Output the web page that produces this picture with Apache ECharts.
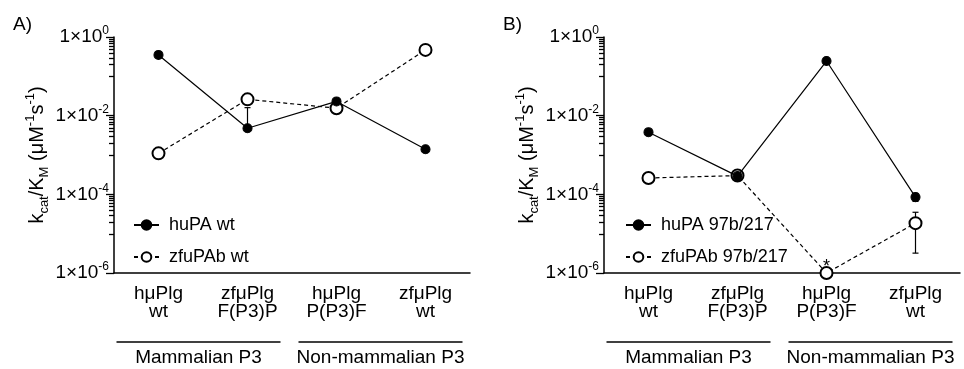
<!DOCTYPE html>
<html>
<head>
<meta charset="utf-8">
<script src="https://cdn.jsdelivr.net/npm/echarts@6/dist/echarts.min.js"></script>
<style>
  html, body { margin: 0; padding: 0; background: #fff; }
  #chart { width: 964px; height: 369px; }
</style>
</head>
<body>
<div id="chart"></div>
<script>
// categories and groups
const categories = ['hμPlg\nwt', 'zfμPlg\nF(P3)P', 'hμPlg\nP(P3)F', 'zfμPlg\nwt'];
const groupNames = ['Mammalian P3', 'Non-mammalian P3'];
const groupRanges = [[0, 1], [2, 3]];
const panelLabels = ['A)', 'B)'];

// panel A
const namesA = ['huPA wt', 'zfuPAb wt'];
const huPA_A = [0.35, 0.0048, 0.023, 0.0014];
const huPA_A_err = [[0.29, 0.42], [null, 0.016], null, null];
const zfuPAb_A = [0.0011, 0.026, 0.0155, 0.47];
const zfuPAb_A_err = [null, null, null, null];

// panel B
const namesB = ['huPA 97b/217', 'zfuPAb 97b/217'];
const huPA_B = [0.0038, 0.00029, 0.245, 0.000085];
const huPA_B_err = [null, [0.00023, 0.00034], null, [0.000066, 0.000105]];
const zfuPAb_B = [0.00026, 0.0003, 0.000001, 0.0000185];
const zfuPAb_B_err = [null, null, null, [0.0000032, 0.000035]];
const zfuPAb_B_notes = ['', '', '*', ''];

// y ticks (powers of ten)
const yMajorExp = [-6, -4, -2, 0];

const FONT = '"Liberation Sans", Arial, sans-serif';
const grids = [
  { left: 114, top: 37, width: 356, height: 236 },
  { left: 604, top: 37, width: 356, height: 236 }
];

// minor ticks: 1..9 x 10^(e-1) below each major tick
const minorVals = [];
yMajorExp.slice(1).forEach(e => {
  for (let k = 1; k <= 9; k++) minorVals.push(k * Math.pow(10, e - 1));
});

const tickRich = {
  b: { fontSize: 19, fontFamily: FONT, color: '#000', lineHeight: 24 },
  s: { fontSize: 12, fontFamily: FONT, color: '#000', lineHeight: 13, verticalAlign: 'top' }
};
const nameRich = {
  t: { fontSize: 20, fontFamily: FONT, color: '#000', lineHeight: 27 },
  sb: { fontSize: 13, fontFamily: FONT, color: '#000', lineHeight: 15, verticalAlign: 'bottom' },
  sp: { fontSize: 13, fontFamily: FONT, color: '#000', lineHeight: 15, verticalAlign: 'top' }
};

function yAxis(gi) {
  return {
    type: 'log', gridIndex: gi, logBase: 10, min: 1e-6, max: 1, interval: 2,
    axisLine: { show: true, lineStyle: { color: '#000', width: 1.5 } },
    axisTick: { show: true, length: 8, lineStyle: { color: '#000', width: 1.3 } },
    axisLabel: {
      margin: 5,
      formatter: v => '{b|1×10}{s|' + Math.round(Math.log10(v)) + '}',
      rich: tickRich
    },
    splitLine: { show: false },
    name: '{t|k}{sb|cat}{t|/K}{sb|M}{t| (μM}{sp|-1}{t|s}{sp|-1}{t|)}',
    nameLocation: 'middle', nameRotate: 90, nameGap: 63,
    nameTextStyle: { rich: nameRich }
  };
}

function xAxis(gi) {
  return {
    type: 'category', gridIndex: gi, data: categories, boundaryGap: true,
    axisLine: { onZero: false, lineStyle: { color: '#000', width: 1.5 } },
    axisTick: { alignWithLabel: true, length: 6, lineStyle: { color: '#000', width: 1.3 } },
    axisLabel: { interval: 0, margin: 12, fontSize: 19, lineHeight: 18, color: '#000', fontFamily: FONT },
    splitLine: { show: false }
  };
}

function lineSeries(name, values, filled, gi, notes) {
  return {
    name, type: 'line', xAxisIndex: gi, yAxisIndex: gi,
    data: values.map((v, i) => (notes && notes[i]) ? {
      value: v,
      label: { show: true, formatter: notes[i], position: 'top', distance: -10,
        fontSize: 18, color: '#000', fontFamily: FONT }
    } : v),
    symbol: filled ? 'circle' : 'emptyCircle',
    symbolSize: filled ? 9 : 12,
    showAllSymbol: true,
    lineStyle: { color: '#000', width: 1.2, type: filled ? 'solid' : [4, 3] },
    itemStyle: { color: '#000', borderColor: '#000', borderWidth: 1.1 },
    clip: false, z: filled ? 4 : 3
  };
}

function errSeries(values, errs, gi) {
  const data = [];
  errs.forEach((e, i) => {
    if (!e) return;
    data.push([i, e[0] != null ? e[0] : values[i], e[1] != null ? e[1] : values[i],
      e[0] != null ? 1 : 0, e[1] != null ? 1 : 0]);
  });
  return {
    type: 'custom', xAxisIndex: gi, yAxisIndex: gi, silent: true, clip: false, z: 2,
    encode: { x: 0, y: [1, 2] },
    data,
    renderItem(params, api) {
      const x = api.value(0);
      const lo = api.coord([x, api.value(1)]);
      const hi = api.coord([x, api.value(2)]);
      const st = { stroke: '#000', lineWidth: 1.2 };
      const ch = [{ type: 'line', shape: { x1: lo[0], y1: lo[1], x2: hi[0], y2: hi[1] }, style: st }];
      if (api.value(3)) ch.push({ type: 'line', shape: { x1: lo[0] - 3, y1: lo[1], x2: lo[0] + 3, y2: lo[1] }, style: st });
      if (api.value(4)) ch.push({ type: 'line', shape: { x1: hi[0] - 3, y1: hi[1], x2: hi[0] + 3, y2: hi[1] }, style: st });
      return { type: 'group', children: ch };
    }
  };
}

function legend(gi, names) {
  return {
    data: names, orient: 'vertical', left: gi === 0 ? 128 : 620, top: 211,
    itemWidth: 25, itemHeight: 12, itemGap: 14, selectedMode: false,
    textStyle: { fontSize: 18, color: '#000', fontFamily: FONT, padding: [0, 0, 0, 5] }
  };
}

const chart = echarts.init(document.getElementById('chart'));
chart.setOption({
  animation: false,
  backgroundColor: '#fff',
  grid: grids,
  xAxis: [xAxis(0), xAxis(1)],
  yAxis: [yAxis(0), yAxis(1)],
  legend: [legend(0, namesA), legend(1, namesB)],
  series: [
    errSeries(huPA_A, huPA_A_err, 0),
    errSeries(zfuPAb_A, zfuPAb_A_err, 0),
    lineSeries(namesA[0], huPA_A, true, 0),
    lineSeries(namesA[1], zfuPAb_A, false, 0),
    errSeries(huPA_B, huPA_B_err, 1),
    errSeries(zfuPAb_B, zfuPAb_B_err, 1),
    lineSeries(namesB[0], huPA_B, true, 1),
    lineSeries(namesB[1], zfuPAb_B, false, 1, zfuPAb_B_notes)
  ]
});

// minor y ticks, group brackets under the category labels, panel letters
const groupExtents = [[-42, 33], [-38, 37]];
const graphic = [];
[0, 1].forEach(gi => {
  const g = grids[gi];
  graphic.push({ type: 'text', left: g.left - 101, top: 15,
    style: { text: panelLabels[gi], fill: '#000', font: '19px ' + FONT } });
  // minor ticks placed on the log scale between the pixel positions of the end decades
  const yTop = chart.convertToPixel({ gridIndex: gi }, [0, 1])[1];
  const yBot = chart.convertToPixel({ gridIndex: gi }, [0, 1e-6])[1];
  minorVals.forEach(v => {
    const y = Math.round(yTop + (yBot - yTop) * (0 - Math.log10(v)) / 6) + 0.5;
    graphic.push({ type: 'line', z: 100, shape: { x1: g.left - 5, y1: y, x2: g.left, y2: y },
      style: { stroke: '#000', lineWidth: 1.3 } });
  });
  groupRanges.forEach((r, k) => {
    const x1 = chart.convertToPixel({ xAxisIndex: gi }, r[0]) + groupExtents[k][0];
    const x2 = chart.convertToPixel({ xAxisIndex: gi }, r[1]) + groupExtents[k][1];
    graphic.push({ type: 'line', shape: { x1, y1: 342, x2, y2: 342 },
      style: { stroke: '#000', lineWidth: 1.5 } });
    graphic.push({ type: 'text', x: (x1 + x2) / 2, y: 358,
      style: { text: groupNames[k], fill: '#000', font: '19px ' + FONT,
        textAlign: 'center', textVerticalAlign: 'middle' } });
  });
});
chart.setOption({ graphic });
</script>
</body>
</html>
